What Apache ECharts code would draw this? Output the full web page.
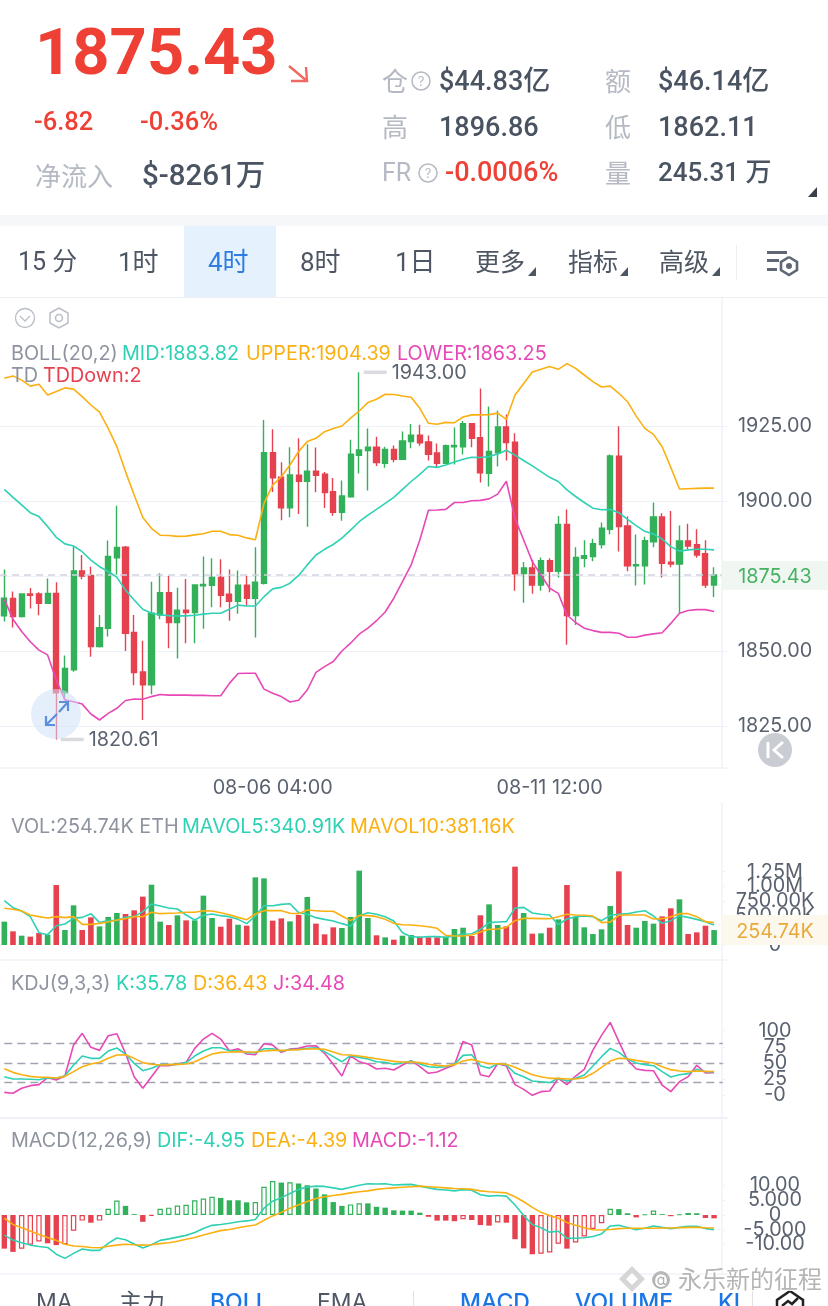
<!DOCTYPE html>
<html><head><meta charset="utf-8">
<style>html,body{margin:0;padding:0;background:#fff;overflow:hidden}#c{width:828px;height:1306px}</style>
<script src="https://cdn.jsdelivr.net/npm/echarts@6/dist/echarts.min.js"></script>
</head><body><div id="c"></div>
<script>
// ---------- data ----------
const candles = [ // [open, close, low, high]
[1861.8,1867.7,1859.9,1877.3],[1867.6,1861.6,1857.9,1869.9],[1861.6,1869.1,1861.3,1869.3],[1869.1,1868.7,1864.3,1871.1],[1869.1,1866.0,1862.0,1869.7],[1866.0,1869.3,1866.0,1874.3],
[1869.3,1836.2,1820.61,1873.0],[1836.2,1844.3,1833.8,1848.6],[1843.8,1876.8,1843.2,1884.9],[1876.8,1875.1,1874.0,1882.1],[1875.3,1851.6,1848.2,1878.2],[1851.6,1857.9,1851.3,1862.1],
[1857.7,1881.6,1854.9,1886.9],[1881.2,1884.6,1875.5,1898.5],[1884.7,1856.0,1850.1,1885.1],[1856.3,1842.9,1838.7,1862.1],[1843.1,1838.8,1827.1,1853.5],[1838.8,1862.7,1835.7,1873.2],
[1862.1,1869.5,1860.7,1876.0],[1869.5,1859.6,1851.0,1875.1],[1859.6,1863.7,1847.6,1871.2],[1863.7,1862.9,1852.7,1874.1],[1862.9,1872.1,1852.7,1872.1],[1871.8,1872.3,1857.5,1881.6],
[1872.0,1874.6,1864.7,1881.0],[1874.6,1868.7,1864.7,1880.7],[1869.0,1866.7,1860.2,1877.3],[1866.7,1872.0,1862.5,1876.9],[1872.0,1867.7,1865.2,1875.3],[1867.7,1873.0,1854.6,1884.7],
[1872.7,1916.2,1872.3,1927.1],[1916.2,1907.8,1903.1,1924.0],[1908.0,1897.8,1893.7,1913.0],[1897.8,1908.8,1894.7,1918.0],[1908.7,1906.7,1895.8,1921.0],[1906.7,1910.0,1891.5,1919.0],
[1910.0,1908.7,1903.0,1917.9],[1909.0,1902.9,1897.8,1909.8],[1903.2,1896.3,1895.2,1907.8],[1896.3,1901.8,1893.5,1906.9],[1901.5,1915.7,1901.2,1920.5],[1915.3,1917.1,1909.3,1943.0],
[1916.9,1918.0,1903.6,1924.3],[1918.0,1912.9,1911.8,1921.5],[1912.7,1917.3,1911.2,1918.2],[1917.3,1914.0,1913.0,1918.6],[1914.0,1920.1,1913.8,1923.3],[1919.9,1922.0,1917.7,1925.8],
[1922.0,1919.5,1918.5,1925.5],[1919.8,1915.7,1913.6,1921.9],[1916.1,1912.7,1911.2,1919.3],[1912.7,1918.5,1912.5,1918.9],[1918.2,1918.6,1912.3,1924.6],[1918.2,1925.9,1915.6,1926.8],
[1925.9,1921.0,1918.0,1926.0],[1921.2,1909.5,1906.3,1937.6],[1909.3,1916.6,1904.9,1931.6],[1916.2,1924.8,1911.6,1930.2],[1924.8,1919.6,1913.6,1928.9],[1919.7,1875.8,1870.2,1922.7],
[1875.9,1877.8,1866.2,1879.8],[1877.8,1872.1,1869.2,1880.5],[1872.1,1880.2,1870.2,1881.3],[1880.2,1876.7,1869.7,1881.0],[1876.7,1892.3,1874.6,1895.1],[1892.3,1861.9,1852.2,1897.3],
[1861.9,1881.3,1858.8,1884.7],[1881.0,1881.9,1878.0,1887.0],[1881.6,1885.9,1880.0,1887.5],[1885.6,1891.0,1884.3,1892.9],[1890.7,1915.1,1889.0,1915.6],[1915.0,1891.6,1883.3,1925.0],
[1891.8,1878.5,1876.7,1894.9],[1878.5,1878.9,1871.9,1888.9],[1878.5,1886.9,1872.3,1888.2],[1886.5,1894.8,1884.7,1899.6],[1894.8,1879.3,1874.6,1896.0],[1879.7,1879.1,1878.0,1896.8],
[1879.1,1886.8,1862.7,1891.9],[1886.8,1885.1,1884.0,1892.5],[1885.5,1882.1,1881.2,1890.7],[1882.5,1872.1,1871.1,1887.0],[1872.1,1875.43,1868.1,1878.0]];
const bollUpper = [1941.0,1941.8,1940.4,1938.4,1939.0,1935.4,1936.6,1937.8,1937.4,1934.9,1932.1,1929.7,1924.3,1918.2,1909.9,1902.1,1894.6,1891.0,1888.7,1888.6,1888.3,1888.4,1888.8,1889.2,1890.0,1890.0,1888.9,1888.7,1887.8,1887.2,1899.3,1905.4,1908.2,1912.1,1916.6,1919.9,1921.0,1923.2,1924.3,1925.1,1927.7,1930.1,1932.9,1934.0,1935.7,1935.6,1935.1,1934.7,1931.0,1926.0,1925.7,1926.3,1926.2,1928.1,1928.8,1928.8,1928.9,1929.4,1927.3,1935.4,1939.3,1943.1,1944.0,1944.9,1944.0,1945.9,1944.3,1942.1,1939.9,1938.1,1938.4,1936.0,1933.2,1928.4,1924.3,1922.3,1918.2,1911.3,1904.1,1904.2,1904.3,1904.4,1904.39];
const bollMid = [1904.0,1901.3,1898.8,1896.2,1894.9,1891.6,1888.0,1885.8,1885.1,1883.2,1880.4,1878.2,1876.6,1874.7,1870.4,1867.1,1864.0,1862.7,1862.2,1861.9,1861.8,1861.8,1862.0,1862.4,1862.7,1862.7,1864.0,1865.4,1865.1,1865.1,1868.2,1870.8,1871.3,1872.7,1875.3,1878.8,1882.1,1884.0,1885.6,1887.7,1890.4,1893.2,1895.4,1897.3,1899.3,1901.3,1904.0,1906.6,1909.0,1911.6,1911.3,1912.1,1913.1,1914.0,1914.7,1914.6,1914.9,1915.8,1917.0,1915.4,1913.6,1911.8,1909.9,1908.0,1906.6,1903.8,1901.6,1899.6,1897.7,1897.2,1897.3,1896.2,1894.0,1891.9,1890.0,1889.1,1887.4,1884.9,1883.4,1883.8,1884.0,1884.0,1883.82];
const bollLower = [1867.3,1860.7,1856.6,1853.2,1850.4,1848.8,1840.4,1833.8,1833.2,1832.4,1829.1,1827.1,1829.3,1831.0,1833.6,1834.1,1834.0,1834.9,1835.6,1835.4,1835.4,1835.4,1835.3,1835.3,1835.2,1835.2,1839.3,1842.6,1842.7,1842.7,1837.4,1836.0,1834.9,1833.1,1833.7,1837.1,1843.0,1844.9,1846.6,1850.1,1852.7,1855.7,1857.7,1860.2,1863.1,1867.7,1873.2,1878.8,1887.1,1897.0,1897.1,1897.3,1899.6,1899.6,1900.2,1900.3,1900.8,1902.4,1906.7,1894.3,1887.1,1879.9,1875.4,1871.0,1869.3,1862.1,1859.6,1857.7,1856.9,1856.3,1856.3,1856.0,1854.7,1854.7,1855.4,1855.8,1856.2,1859.3,1862.7,1863.6,1863.9,1863.9,1863.25];
const volume = [398,233,159,142,204,176,1022,256,676,256,471,318,477,545,528,591,824,1028,398,341,506,420,420,841,460,312,449,346,329,1153,1136,415,454,403,511,818,364,182,301,290,477,1267,460,165,131,91,159,170,142,131,131,142,273,295,153,506,693,341,318,1335,545,193,199,295,437,1022,483,301,187,267,665,1255,341,295,409,364,488,625,778,187,216,329,254.74];
const mavol5 = [755,636,579,483,210,176,329,358,454,471,534,381,415,415,471,483,568,699,665,630,613,511,426,506,528,500,483,437,364,494,670,670,693,704,551,523,466,437,409,364,324,500,551,523,483,409,210,142,131,142,142,131,153,187,193,267,381,392,398,630,642,545,523,511,346,443,483,494,483,415,506,523,534,562,585,494,369,415,500,471,437,398,340.91];
const mavol10 = [625,608,579,511,483,460,483,466,483,352,352,369,392,426,449,483,483,557,534,540,545,557,557,585,579,551,517,471,432,528,585,585,585,540,534,596,585,574,574,494,415,506,500,483,437,369,346,341,329,312,284,165,153,153,170,222,267,273,301,415,454,454,449,449,483,523,511,506,494,381,392,506,511,511,511,443,449,483,534,534,483,398,381.16];
const kdjK = [28.5,24.9,24.9,24.4,23.8,26.9,25.9,30.1,46.6,60.6,57.0,57.0,68.4,73.1,63.7,49.2,37.8,41.5,47.2,47.2,47.7,50.3,60.6,68.4,73.6,73.6,68.9,68.9,65.8,65.8,72.0,72.0,68.4,70.5,71.0,72.5,73.6,67.4,59.6,51.8,61.1,58.5,56.0,51.8,50.8,47.7,49.7,52.8,48.2,44.0,43.0,44.0,47.7,61.7,62.7,45.6,41.5,48.7,46.6,33.7,28.5,21.8,20.7,19.2,25.9,21.8,25.9,31.1,45.1,59.6,72.5,66.3,56.0,49.7,47.2,45.6,36.3,28.0,31.6,33.2,39.9,36.3,35.78];
const kdjD = [40.9,35.2,31.6,29.0,27.5,27.5,26.4,29.0,36.3,44.0,48.2,50.8,57.0,62.2,62.7,57.0,50.3,47.7,46.6,47.2,47.7,48.2,51.8,58.0,63.7,66.3,66.8,67.4,66.8,66.8,68.4,69.4,69.4,69.9,70.5,71.5,72.0,71.0,66.8,62.7,62.2,60.6,58.5,56.5,54.4,52.3,51.3,51.3,50.3,47.7,46.1,45.1,47.2,52.8,55.4,51.8,48.7,48.7,47.7,43.0,37.3,31.6,28.5,25.9,25.9,24.9,24.9,26.9,33.7,43.0,52.8,57.0,56.5,53.9,51.8,49.7,44.0,39.4,37.3,36.3,37.3,36.8,36.43];
const kdjJ = [4.1,2.6,10.4,14.5,16.1,26.9,23.3,29.5,77.7,95.9,74.1,69.4,92.2,95.3,64.8,28.5,10.4,28.5,46.1,45.6,48.2,50.8,72.5,87.0,95.9,87.0,68.9,72.0,63.7,62.7,79.8,77.7,66.3,71.5,72.5,76.2,76.7,64.8,47.7,29.5,60.6,51.8,48.2,40.4,41.5,38.9,46.6,53.4,44.0,33.7,35.8,41.5,46.6,83.4,77.7,31.6,28.5,48.7,45.1,16.1,8.8,-0.5,5.2,6.2,25.9,16.1,29.5,39.9,69.9,92.7,113.0,82.9,54.4,40.4,38.3,37.8,15.5,5.2,20.7,28.5,46.1,34.2,34.48];
const macdHist = [-11.4,-12.5,-11.4,-10.1,-9.0,-9.6,-10.2,-9.9,-5.3,-1.9,-2.6,-1.9,2.1,4.9,3.1,0.3,-2.3,-0.3,2.1,2.5,3.2,3.5,5.0,5.6,6.2,5.8,5.0,5.0,4.3,4.4,9.6,11.5,11.0,11.1,10.7,10.1,9.0,7.0,4.4,3.1,3.6,4.0,3.95,2.8,2.5,1.6,1.5,1.5,0.8,-0.6,-1.9,-1.9,-2.1,-1.4,-1.7,-3.4,-3.6,-2.5,-2.6,-8.2,-11.3,-13.3,-13.1,-12.7,-9.7,-11.4,-9.3,-7.3,-4.7,-2.8,2.1,2.0,0.6,-0.8,0.2,1.5,0.3,-0.4,0.2,0.7,0.6,-1.0,-1.12];
const macdDif = [-6.8,-8.5,-9.4,-10.2,-10.7,-11.0,-13.3,-14.7,-13.0,-11.5,-12.0,-12.0,-9.6,-7.8,-8.4,-9.8,-11.2,-10.1,-8.6,-8.1,-7.5,-6.9,-5.9,-4.6,-3.5,-3.2,-2.8,-2.3,-2.0,-1.5,2.3,4.7,5.9,7.3,8.7,9.5,9.8,9.7,9.2,8.7,9.4,10.1,10.6,10.5,10.6,10.2,10.3,10.4,9.8,9.2,8.7,8.5,8.2,8.6,8.4,6.9,6.4,6.6,6.4,3.4,-0.2,-3.2,-4.3,-5.8,-5.5,-7.9,-7.9,-7.7,-7.3,-6.4,-3.7,-3.5,-4.2,-5.0,-4.5,-3.7,-4.2,-4.6,-4.2,-3.8,-3.8,-4.6,-4.95];
const macdDea = [-1.1,-3.2,-4.3,-5.4,-6.6,-7.6,-8.6,-9.9,-10.5,-10.7,-11.0,-11.1,-10.6,-10.2,-9.9,-10.1,-10.2,-10.1,-9.7,-9.4,-8.9,-8.2,-7.6,-6.8,-6.0,-5.3,-4.9,-4.3,-3.8,-3.4,-1.8,-0.3,0.9,2.3,3.5,4.6,5.6,6.2,6.6,7.0,7.5,7.9,8.2,8.7,9.0,9.2,9.4,9.6,9.8,9.6,9.4,9.2,9.0,8.9,8.7,8.2,7.9,7.7,7.5,6.2,4.5,2.6,0.9,-0.2,-1.1,-2.5,-3.5,-4.3,-5.0,-5.1,-4.9,-4.6,-4.5,-4.5,-4.5,-4.5,-4.4,-4.4,-4.3,-4.2,-4.2,-4.3,-4.39];

const timeTicks = ['08-06 04:00','08-11 12:00'];
const priceTicks = [1825,1850,1875,1900,1925];
const volTicks = [0,250,500,750,1000,1250];
const volTickLabels = ['0','250.00K','500.00K','750.00K','1.00M','1.25M'];
const kdjTicks = [0,25,50,75,100];
const kdjTickLabels = ['-0','25','50','75','100'];
const kdjGuides = [20,50,80];
const macdTicks = [-10,-5,0,5,10];
const macdTickLabels = ['-10.00','-5.000','0','5.000','10.00'];
const lastPrice = 1875.43;
const highMark = {index:41, value:1943.00};
const lowMark = {index:6, value:1820.61};

// one 4h category per candle, starting 08-01 00:00, plus one empty slot on the right
const pad = n => String(n).padStart(2,'0');
const categories = candles.map((_,i)=>{const d=new Date(Date.UTC(2025,7,1,i*4));return pad(d.getUTCMonth()+1)+'-'+pad(d.getUTCDate())+' '+pad(d.getUTCHours())+':00';});
categories.push('');

// ---------- styles ----------
const GREEN='#33b15a',RED='#e5414f',TEAL='#2fd1b4',ORANGE='#fbb012',PINK='#e748b6',GRAY='#8d939f',AXIS='#5a6270',LINE='#eef2f8';
const LATIN='Inter,"Noto Sans CJK SC",sans-serif', ROB='Roboto,"Noto Sans CJK SC",sans-serif';

const gfx=[];
const T=(x,y,text,size,fill,opt={})=>gfx.push({type:'text',z:100,x,y:y+(opt.dy==null?2:opt.dy),silent:true,style:{text,fontSize:size,fill,fontFamily:opt.fam||LATIN,fontWeight:opt.w||400,align:opt.a||'left',verticalAlign:'middle',stroke:opt.stroke,lineWidth:opt.lw||0}});
const R=(x,y,w,h,fill,op,z)=>gfx.push({type:'rect',z:z||90,shape:{x,y,width:w,height:h},silent:true,style:{fill,opacity:op==null?1:op}});
const L=(pts,stroke,lw,fill)=>gfx.push({type:fill?'polygon':'polyline',z:100,silent:true,shape:{points:pts},style:fill?{fill:stroke}:{stroke,lineWidth:lw,fill:'none'}});
const C=(cx,cy,r,stroke,lw,fill,op,z)=>gfx.push({type:'circle',z:z||95,silent:true,shape:{cx,cy,r},style:{stroke,lineWidth:lw,fill:fill||'none',opacity:op==null?1:op}});

// header
const DARK='#4a5361',LG='#b4b9c3',PR='#ee4035';
T(35,52,'1875.43',65,PR,{fam:ROB,w:700,dy:6});
L([[289,66],[307,81]],'#f0695f',2.4); L([[306,67],[307,81],[291,81]],'#f0695f',2.4);
T(34,122,'-6.82',25.5,PR,{fam:ROB,w:500}); T(140,122,'-0.36%',25.5,PR,{fam:ROB,w:500});
T(35,176,'净流入',26,LG); T(142,176,'$-8261万',29.5,DARK,{fam:ROB,w:500});
T(382,81,'仓',26,LG); C(421,81,9,LG,1.5); T(421,80,'?',13,LG,{a:'center'}); T(439,81,'$44.83亿',27,DARK,{fam:ROB,w:500});
T(605,81,'额',26,LG); T(658,81,'$46.14亿',27,DARK,{fam:ROB,w:500});
T(382,127,'高',26,LG); T(439,127,'1896.86',27,DARK,{fam:ROB,w:500});
T(605,127,'低',26,LG); T(658,127,'1862.11',27,DARK,{fam:ROB,w:500});
T(382,173,'FR',25,LG,{fam:ROB}); C(428,173,9,LG,1.5); T(428,172,'?',13,LG,{a:'center'}); T(445,172,'-0.0006%',27,PR,{fam:ROB,w:500});
T(605,173,'量',26,LG); T(658,172,'245.31 万',26,DARK,{fam:ROB,w:500});
L([[817,187],[817,197],[808,197]],'#3a3f4a',1,true);
// tabs
R(0,215,828,11,'#f6f7f9');
R(184,226,92,71,'#e6f1fe');
R(0,297,828,1,'#eef0f4');
T(18,262,'15 分',25,'#4e5663',{fam:ROB}); T(118,262,'1时',26,'#4e5663',{fam:ROB}); T(208,262,'4时',26,'#2f7de1',{fam:ROB});
T(300,262,'8时',26,'#4e5663',{fam:ROB}); T(395,262,'1日',26,'#4e5663',{fam:ROB}); T(475,261,'更多',25,'#4e5663'); T(568,261,'指标',25,'#4e5663'); T(659,261,'高级',25,'#4e5663');
[[536,267],[628,267],[720,267]].forEach(([x,y])=>L([[x,y],[x,y+9],[x-8,y+9]],'#4e5663',1,true));
R(736,245,1,35,'#eceef2');
R(767,251,20,3,'#5f6775'); R(767,259,12,3,'#5f6775'); R(767,268,10,3,'#5f6775');
L([[789,257],[797,262],[797,270],[789,275],[781,270],[781,262],[789,257]],'#5f6775',2.6);
gfx.push({type:'circle',z:101,silent:true,shape:{cx:789,cy:266,r:3},style:{fill:'#5f6775'}});
// chart corner icons
C(25,318,9.5,'#b9bec8',1.3);
L([[20,316],[25,321],[30,316]],'#b9bec8',1.3);
L([[59,308],[68,313],[68,323],[59,328],[50,323],[50,313],[59,308]],'#b9bec8',1.5);
C(59,318,3.5,'#b9bec8',1.5);
// indicator captions
const cap=(y,items)=>items.forEach(([x,t,c])=>T(x,y,t,19.8,c,{dy:1}));
cap(353,[[11,'BOLL(20,2)',GRAY],[122,'MID:1883.82',TEAL],[246,'UPPER:1904.39',ORANGE],[397,'LOWER:1863.25',PINK]]);
cap(375,[[11,'TD',GRAY],[43,'TDDown:2',RED]]);
cap(826,[[11,'VOL:254.74K ETH',GRAY],[182,'MAVOL5:340.91K',TEAL],[350,'MAVOL10:381.16K',ORANGE]]);
cap(983,[[11,'KDJ(9,3,3)',GRAY],[116,'K:35.78',TEAL],[193,'D:36.43',ORANGE],[273,'J:34.48',PINK]]);
cap(1140,[[11,'MACD(12,26,9)',GRAY],[157,'DIF:-4.95',TEAL],[251,'DEA:-4.39',ORANGE],[352,'MACD:-1.12',PINK]]);
// price tags
R(722,561,106,29,'#f0f7f2'); T(775,576,'1875.43',19.8,'#45b262',{a:'center',dy:1});
R(722,915,106,30,'#fdf8ee'); T(775,931,'254.74K',19.8,'#e9a93a',{a:'center',dy:1});
// floating buttons
C(56,714,25,'none',0,'#cfe0f8',0.55);
L([[47,724],[57,714]],'#5b8fdc',2.2); L([[46,716],[46,725],[55,725]],'#5b8fdc',2.2);
L([[59,712],[68,702]],'#5b8fdc',2.2); L([[59,702],[68,702],[68,711]],'#5b8fdc',2.2);
C(775,750,17,'none',0,'#c9ccd3');
L([[768,742],[768,758]],'#fff',3); L([[783,742],[774,750],[783,758]],'#fff',2.8);
// bottom tabs
const BOT=1303;
T(36,BOT,'MA',23,'#4e5663',{dy:0}); T(119,BOT,'主力',23,'#4e5663',{dy:0}); T(210,BOT,'BOLL',23,'#1a76e6',{w:500,dy:0}); T(317,BOT,'EMA',23,'#4e5663',{dy:0});
R(413,1291,1,15,'#dfe2e7');
T(460,BOT,'MACD',23,'#1a76e6',{w:500,dy:0}); T(575,BOT,'VOLUME',23,'#1a76e6',{w:500,dy:0}); T(718,BOT,'KI',23,'#1a76e6',{w:500,dy:0});
R(752,1291,1,15,'#dfe2e7');
L([[790,1291],[803,1300],[803,1312],[777,1312],[777,1300],[790,1291]],'#222',2.5);
L([[782,1306],[788,1301],[792,1304],[798,1298]],'#222',2.5);
// watermark
L([[632,1266],[645,1279],[632,1292],[619,1279]],'#d6d6d6',1,true);
L([[632,1273],[638,1279],[632,1285],[626,1279]],'#ffffff',1,true);
C(661,1280,8,'#b8b8b8',2);
T(661,1280,'@',17,'#b0b0b0',{a:'center',dy:0});
T(678,1281,'永乐新的征程',24,'#b5b5b5',{stroke:'#fff',lw:2,dy:0});

// ---------- chart ----------
const G={left:-0.33,width:727.4};
const grids=[{top:297,height:471},{top:803,height:157},{top:960,height:158},{top:1118,height:156}].map(g=>Object.assign({},G,g));
const axisX=(i,labels)=>({type:'category',gridIndex:i,data:categories,boundaryGap:true,
  axisLine:{onZero:false,lineStyle:{color:LINE,width:i==2?2:1.5}},axisTick:{show:false},splitLine:{show:false},
  axisLabel:labels?{show:true,interval:(idx,v)=>timeTicks.includes(v),formatter:v=>v,color:AXIS,fontSize:19.8,fontFamily:LATIN,margin:10}:{show:false}});
// the label list is padded with two blank entries at the axis ends, so that crowded ticks all stay visible
const axisY=(i,min,max,ticks,fmt,grid)=>({type:'value',gridIndex:i,position:'right',offset:-5.1,min,max,scale:true,
  axisLine:{show:true,lineStyle:{color:LINE,width:1.5}},
  axisTick:{show:!grid,length:3,customValues:ticks,lineStyle:{color:LINE}},
  splitLine:{show:!!grid,lineStyle:{color:LINE,width:1.2}},
  axisLabel:{customValues:[min,...ticks,max],formatter:v=>ticks.includes(v)?fmt(v):'',align:'center',margin:53,color:AXIS,fontSize:19.8,fontFamily:LATIN,lineHeight:18,padding:[3,0,0,0],hideOverlap:false}});
const line=(name,data,color,ax,extra)=>Object.assign({type:'line',name,data,xAxisIndex:ax,yAxisIndex:ax,symbol:'none',smooth:false,lineStyle:{color,width:1.6},z:5,silent:true},extra||{});
const extreme=(m,off)=>({coord:[categories[m.index],m.value],symbol:'rect',symbolSize:[23,3.5],symbolOffset:[off,0],
  itemStyle:{color:'#d9dbde'},label:{show:true,position:'right',distance:5,offset:[0,1],formatter:m.value.toFixed(2),color:AXIS,fontSize:19.8,fontFamily:LATIN}});
const isUp=i=>candles[i][1]>=candles[i][0];
const volData=volume.map((v,i)=>({value:v,itemStyle:{color:isUp(i)?GREEN:RED}}));
const histData=macdHist.map((v,i)=>{const c=v>=0?GREEN:RED;const rising=i>0&&v>macdHist[i-1];
  return {value:v,itemStyle:rising?{color:'#fff',borderColor:c,borderWidth:1.2}:{color:c}};});
const guideLines=kdjGuides.map(v=>[{coord:[categories[0],v]},{coord:[categories[83],v]}]);

const option={animation:false,backgroundColor:'#fff',grid:grids,
  xAxis:[axisX(0,true),axisX(1),axisX(2),axisX(3)],
  yAxis:[
    axisY(0,1811.1,1968.1,priceTicks,v=>v.toFixed(2),true),
    axisY(1,-255.6,2420,volTicks,v=>volTickLabels[volTicks.indexOf(v)]),
    axisY(2,-35.8,210,kdjTicks,v=>kdjTickLabels[kdjTicks.indexOf(v)]),
    axisY(3,-20,32.9,macdTicks,v=>macdTickLabels[macdTicks.indexOf(v)])
  ],
  graphic:{elements:gfx},
  series:[
    {type:'candlestick',data:candles,barWidth:5.6,silent:true,z:3,
      itemStyle:{color:GREEN,color0:RED,borderColor:GREEN,borderColor0:RED,borderWidth:1.4},
      markLine:{silent:true,symbol:'none',animation:false,label:{show:false},lineStyle:{color:'#cfd4de',type:[7,5],width:1.5},data:[{yAxis:lastPrice}]},
      markPoint:{silent:true,animation:false,data:[extreme(highMark,16),extreme(lowMark,16)]}},
    line('MID',bollMid,TEAL,0),line('UPPER',bollUpper,ORANGE,0),line('LOWER',bollLower,PINK,0),
    {type:'bar',data:volData,xAxisIndex:1,yAxisIndex:1,barWidth:5.6,silent:true,z:3},
    line('MAVOL5',mavol5,TEAL,1),line('MAVOL10',mavol10,ORANGE,1),
    line('J',kdjJ,PINK,2,{markLine:{silent:true,symbol:'none',animation:false,label:{show:false},lineStyle:{color:'#9fa3b2',type:[8,5],width:1.4},data:guideLines}}),
    line('K',kdjK,TEAL,2),line('D',kdjD,ORANGE,2),
    {type:'bar',data:histData,xAxisIndex:3,yAxisIndex:3,barWidth:5.4,silent:true,z:3},
    line('DIF',macdDif,TEAL,3),line('DEA',macdDea,ORANGE,3)
  ]};
const chart=echarts.init(document.getElementById('c'),null,{renderer:'canvas',width:828,height:1306});
chart.setOption(option);
</script></body></html>
